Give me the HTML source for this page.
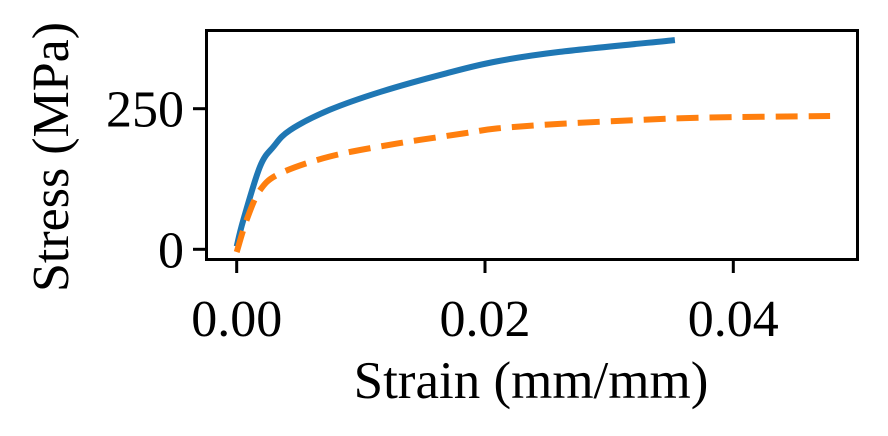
<!DOCTYPE html>
<html><head><meta charset="utf-8"><style>
body{margin:0;background:#fff;}
svg{display:block;font-family:"Liberation Serif",serif;}
</style></head><body>
<svg id="chart" width="888" height="436" viewBox="0 0 888 436">
<rect x="206.5" y="30.5" width="651" height="229" fill="none" stroke="#000" stroke-width="3"/>
<g id="ticks"></g>
<path id="blue" fill="none" stroke="#1f77b4" stroke-width="6" stroke-linejoin="round"/>
<path id="orange" fill="none" stroke="#ff7f0e" stroke-width="6" stroke-dasharray="22,11"/>
<text x="531" y="398" font-size="53" text-anchor="middle">Strain (mm/mm)</text>
<text transform="translate(68,157) rotate(-90)" font-size="52" text-anchor="middle">Stress (MPa)</text>
</svg>
<script>
const xTicks=[0,0.02,0.04];
const xTickLabels=["0.00","0.02","0.04"];
const yTicks=[0,250];
const yTickLabels=["0","250"];
const blueStrain=[0,0.00053,0.00188,0.00295,0.0043,0.0075,0.0116,0.0169,0.0209,0.026,0.0353];
const blueStress=[5,52,147,182,212,248,280,313,334,351,372];
const orangeStrain=[0,0.0008,0.00188,0.0035,0.0075,0.0129,0.0183,0.021,0.026,0.0325,0.0374,0.0478];
const orangeStress=[-5,52,105,135,165,188,206,215,223,230,234,237];
const X=v=>236.7+v/0.02*248.3;
const Y=v=>249.3-v/250*140.6;
const ns="http://www.w3.org/2000/svg";
const g=document.getElementById('ticks');
xTicks.forEach((t,i)=>{
 const l=document.createElementNS(ns,'line');
 
 
 l.setAttribute('x1',X(t));l.setAttribute('x2',X(t));l.setAttribute('y1',260);l.setAttribute('y2',273);
 l.setAttribute('stroke','#000');l.setAttribute('stroke-width',3);g.appendChild(l);
 const tx=document.createElementNS(ns,'text');
 
 
 tx.setAttribute('x',X(t));tx.setAttribute('y',336);tx.setAttribute('font-size',52);tx.setAttribute('text-anchor','middle');
 tx.textContent=xTickLabels[i];g.appendChild(tx);
});
yTicks.forEach((t,i)=>{
 const l=document.createElementNS(ns,'line');
 
 
 l.setAttribute('x1',193);l.setAttribute('x2',206);l.setAttribute('y1',Y(t));l.setAttribute('y2',Y(t));
 l.setAttribute('stroke','#000');l.setAttribute('stroke-width',3);g.appendChild(l);
 const tx=document.createElementNS(ns,'text');
 
 
 tx.setAttribute('x',184);tx.setAttribute('y',Y(t)+18);tx.setAttribute('font-size',52);tx.setAttribute('text-anchor','end');
 tx.textContent=yTickLabels[i];g.appendChild(tx);
});
function path(xs,ys){
 const p=xs.map((x,i)=>[X(x),Y(ys[i])]);
 let d='M'+p[0][0].toFixed(1)+','+p[0][1].toFixed(1);
 for(let i=0;i<p.length-1;i++){
  const p0=p[Math.max(0,i-1)],p1=p[i],p2=p[i+1],p3=p[Math.min(p.length-1,i+2)];
  const c1=[p1[0]+(p2[0]-p0[0])/6,p1[1]+(p2[1]-p0[1])/6];
  const c2=[p2[0]-(p3[0]-p1[0])/6,p2[1]-(p3[1]-p1[1])/6];
  d+=' C'+c1.map(v=>v.toFixed(1)).join(',')+' '+c2.map(v=>v.toFixed(1)).join(',')+' '+p2.map(v=>v.toFixed(1)).join(',');
 }
 return d;
}
document.getElementById('blue').setAttribute('d',path(blueStrain,blueStress));
document.getElementById('orange').setAttribute('d',path(orangeStrain,orangeStress));
</script>
</body></html>
